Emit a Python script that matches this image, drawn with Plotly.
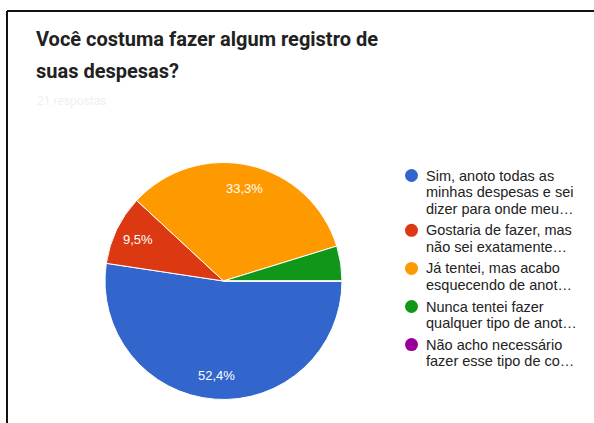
import math
import plotly.graph_objects as go

# Survey responses
question = ["Você costuma fazer algum registro de", "suas despesas?"]
answers = [
    ["Sim, anoto todas as", "minhas despesas e sei", "dizer para onde meu…"],
    ["Gostaria de fazer, mas", "não sei exatamente…"],
    ["Já tentei, mas acabo", "esquecendo de anot…"],
    ["Nunca tentei fazer", "qualquer tipo de anot…"],
    ["Não acho necessário", "fazer esse tipo de co…"],
]
counts = [11, 2, 7, 1, 0]
colors = ["#3366cc", "#dc3912", "#ff9900", "#109618", "#990099"]

W, H = 594, 423
total = sum(counts)
pct_text = []
for c in counts:
    p = c / total * 100
    pct_text.append(f"{p:.1f}%".replace(".", ",") if p >= 5 else "")

# Pie placement (pixels)
cx, cy, r = 223.5, 281, 118.5
start_deg = 90

fig = go.Figure()
fig.add_trace(go.Pie(
    labels=[a[0] for a in answers],
    values=counts,
    textinfo="none",
    marker=dict(colors=colors, line=dict(color="white", width=1)),
    sort=False,
    direction="clockwise",
    rotation=start_deg,
    showlegend=False,
    hoverinfo="skip",
    domain=dict(x=[(cx - r) / W, (cx + r) / W], y=[1 - (cy + r) / H, 1 - (cy - r) / H]),
))

ann = []
# Percentage labels inside slices, along each slice's mid-angle
acc = 0
for c, t in zip(counts, pct_text):
    mid = math.radians(start_deg + (acc + c / 2) / total * 360)
    acc += c
    if not t:
        continue
    px = cx + 0.8 * r * math.sin(mid)
    py = cy - 0.8 * r * math.cos(mid)
    ann.append(dict(x=px / W, y=1 - py / H, xref="paper", yref="paper", text=t,
                    showarrow=False, xanchor="center", yanchor="middle",
                    font=dict(family="Liberation Sans, Arial, sans-serif", size=13, color="white")))

# Title
for i, line in enumerate(question):
    ann.append(dict(x=34 / W, y=1 - (39 + 32 * i) / H, xref="paper", yref="paper",
                    text=f"<b>{line}</b>", showarrow=False, xanchor="left", yanchor="middle",
                    font=dict(family="Roboto, sans-serif", size=20, color="#212121")))
# Response count (faint)
ann.append(dict(x=35 / W, y=1 - 101 / H, xref="paper", yref="paper",
                text=f"{total} respostas", showarrow=False, xanchor="left", yanchor="middle",
                font=dict(family="Roboto, sans-serif", size=12, color="#f0f0f0")))

shapes = []
# Legend
y = 175.5
line_h = 16.7
for lines, col in zip(answers, colors):
    shapes.append(dict(type="circle", xref="paper", yref="paper",
                       x0=405 / W, x1=418 / W, y0=1 - (y + 6.5) / H, y1=1 - (y - 6.5) / H,
                       fillcolor=col, line=dict(width=0)))
    for j, t in enumerate(lines):
        ann.append(dict(x=424 / W, y=1 - (y + j * line_h) / H, xref="paper", yref="paper",
                        text=t, showarrow=False, xanchor="left", yanchor="middle",
                        font=dict(family="Liberation Sans, Arial, sans-serif", size=14.5, color="#222222")))
    y += len(lines) * line_h + 4.7

# Frame lines
shapes.append(dict(type="line", xref="paper", yref="paper", x0=7 / W, x1=1, y0=1 - 11 / H, y1=1 - 11 / H,
                   line=dict(color="#111111", width=2)))
shapes.append(dict(type="line", xref="paper", yref="paper", x0=7 / W, x1=7 / W, y0=0, y1=1 - 11 / H,
                   line=dict(color="#111111", width=2)))

fig.update_layout(
    width=W, height=H,
    margin=dict(l=0, r=0, t=0, b=0),
    paper_bgcolor="white", plot_bgcolor="white",
    annotations=ann, shapes=shapes,
)
fig.write_html("out.html")
